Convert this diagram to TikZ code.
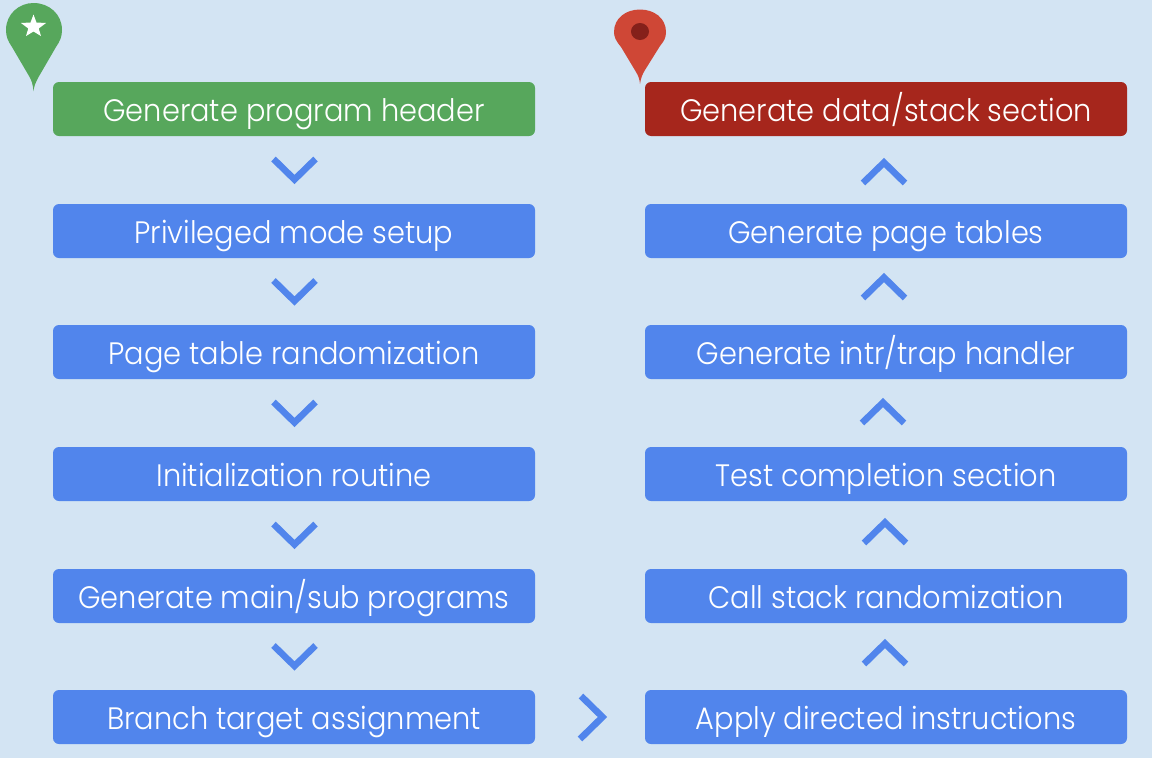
\documentclass[tikz,border=0pt]{standalone}
\usepackage{fontspec}
\setmainfont[FakeStretch=0.93]{Poppins Light}
\definecolor{bgc}{HTML}{D3E4F3}
\definecolor{bluec}{HTML}{5185EC}
\definecolor{greenc}{HTML}{57A75C}
\definecolor{redc}{HTML}{A6261C}
\definecolor{pinred}{HTML}{CF4736}
\definecolor{pindot}{HTML}{85201A}
\tikzset{
  stepbox/.style={rounded corners=6pt,minimum width=482pt,minimum height=54pt,inner sep=0pt,text=white,font=\fontsize{31}{31}\selectfont,text height=25pt,text depth=0pt,fill=bluec,anchor=center},
  chev/.style={draw=bluec,line width=6.6pt,miter limit=10,fill=none}
}
\begin{document}
\begin{tikzpicture}[x=1pt,y=-1pt]
\useasboundingbox[fill=bgc] (0,0) rectangle (1152,758);
\node[stepbox,fill=greenc] (l1) at (294,109) {Generate program header};
\node[stepbox] (l2) at (294,231) {Privileged mode setup};
\node[stepbox] (l3) at (294,352) {Page table randomization};
\node[stepbox] (l4) at (294,474) {Initialization routine};
\node[stepbox] (l5) at (294,596) {Generate main/sub programs};
\node[stepbox] (l6) at (294,717) {Branch target assignment};
\node[stepbox,fill=redc] (r1) at (886,109) {Generate data/stack section};
\node[stepbox] (r2) at (886,231) {Generate page tables};
\node[stepbox] (r3) at (886,352) {Generate intr/trap handler};
\node[stepbox] (r4) at (886,474) {Test completion section};
\node[stepbox] (r5) at (886,596) {Call stack randomization};
\node[stepbox] (r6) at (886,717) {Apply directed instructions};
\foreach \y in {159,280.5,402,524,645.5}
  \draw[chev] (273.5,\y) -- (294.5,\y+20.5) -- (315.5,\y);
\foreach \y/\x in {183/884,298/884,423/883,543/885,664/885}
  \draw[chev] (\x-21,\y) -- (\x,\y-20.5) -- (\x+21,\y);
\draw[chev] (581,696) -- (602.5,717) -- (580,739);
\fill[greenc] (33.5,91) .. controls (32.8,84) and (31.5,80) .. (29,76) -- (12,47) .. controls (8,41) and (6,37) .. (6,30) .. controls (6,14) and (19,3) .. (33.5,3) .. controls (49,3) and (62,14) .. (62,30) .. controls (62,37) and (60,41) .. (56,47) -- (38,78) .. controls (36,82) and (34,86) .. (33.5,91) -- cycle;
\fill[white] (33.5,14.5) -- (36.5,22.5) -- (46,23) -- (38.7,28.5) -- (41,36) -- (33.5,31.5) -- (26,36) -- (28.3,28.5) -- (21,23) -- (30.5,22.5) -- cycle;
\fill[pinred] (640,84) .. controls (639.5,79) and (638.5,76) .. (636,72) -- (621,47) .. controls (616,41) and (614,37) .. (614,32) .. controls (614,18) and (626,9.5) .. (640,9.5) .. controls (654,9.5) and (666,18) .. (666,32) .. controls (666,38) and (664,41) .. (660,46) -- (645,70) .. controls (642,75) and (641,78) .. (640,84) -- cycle;
\fill[pindot] (640,31.5) ellipse[x radius=9,y radius=8.5];
\end{tikzpicture}
\end{document}
